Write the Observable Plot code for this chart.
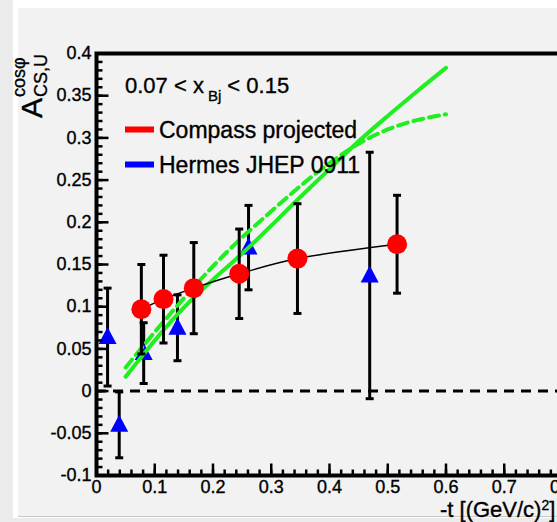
<!DOCTYPE html>
<html><head><meta charset="utf-8">
<script src="https://cdn.jsdelivr.net/npm/d3@7"></script>
<script src="https://cdn.jsdelivr.net/npm/@observablehq/plot@0.6"></script>
<style>
html,body{margin:0;padding:0;width:557px;height:522px;overflow:hidden;background:#ebebeb;position:relative;}
#white{position:absolute;left:13px;top:0;width:600px;height:518px;background:#fff;}
#panel{position:absolute;left:18px;top:8px;width:600px;height:508px;background:#f2f2f2;border-bottom:1px solid #c8c8c8;}
#chart{position:absolute;left:0;top:0;width:600px;height:522px;}
#chart svg{max-width:none !important;width:600px !important;height:522px !important;}
#chart svg text{stroke:#000;stroke-width:0.35px;}
</style></head><body>
<div id="white"></div><div id="panel"></div><div id="chart"></div>
<script>
// ---- data ----
const compassX   = [0.077, 0.115, 0.167, 0.245, 0.345, 0.516];
const compassY   = [0.097, 0.109, 0.122, 0.139, 0.157, 0.174];
const compassErr = [0.053, 0.052, 0.054, 0.053, 0.065, 0.058];

const hermesX   = [0.019, 0.039, 0.081, 0.139, 0.261, 0.469];
const hermesY   = [0.064, -0.040, 0.045, 0.075, 0.170, 0.137];
const hermesErr = [0.058, 0.039, 0.036, 0.039, 0.050, 0.146];

const solidX = [0.05, 0.1, 0.15, 0.2, 0.25, 0.3, 0.35, 0.4, 0.45, 0.5, 0.55, 0.6];
const solidY = [0.017, 0.060, 0.099, 0.132, 0.163, 0.196, 0.230, 0.263, 0.296, 0.326, 0.355, 0.383];

const dashX = [0.05, 0.1, 0.15, 0.2, 0.25, 0.3, 0.35, 0.4, 0.45, 0.5, 0.55, 0.6];
const dashY = [0.028, 0.070, 0.110, 0.148, 0.182, 0.213, 0.243, 0.270, 0.293, 0.310, 0.321, 0.328];

const xTickLabels = [0, 0.1, 0.2, 0.3, 0.4, 0.5, 0.6, 0.7, 0.8];
const yTickLabels = [-0.1, -0.05, 0, 0.05, 0.1, 0.15, 0.2, 0.25, 0.3, 0.35, 0.4];

const legendLabels = ["Compass projected", "Hermes JHEP 0911"];
const legendColors = ["#ff0000", "#0000ff"];

// ---- tables ----
const compass = compassX.map((x, i) => ({x, y: compassY[i], e: compassErr[i]}));
const hermes  = hermesX.map((x, i) => ({x, y: hermesY[i], e: hermesErr[i]}));
const solid   = solidX.map((x, i) => ({x, y: solidY[i]}));
const dashed  = dashX.map((x, i) => ({x, y: dashY[i]}));

const yMinor = d3.range(-10, 41).map(i => i / 100);
const xMinor = d3.range(0, 41).map(i => i / 50);

const FONT = "'Liberation Sans', Arial, Helvetica, sans-serif";

// custom symbols
const hcap = {draw(ctx) { ctx.moveTo(-4, 0); ctx.lineTo(4, 0); }};
const tri  = {draw(ctx) { ctx.moveTo(0, -10); ctx.lineTo(9, 7); ctx.lineTo(-9, 7); ctx.closePath(); }};
const tickRight = len => ({draw(ctx) { ctx.moveTo(0, 0); ctx.lineTo(len, 0); }});
const tickUp    = len => ({draw(ctx) { ctx.moveTo(0, 0); ctx.lineTo(0, -len); }});

const bar = {stroke: "black", strokeWidth: 3};
const cap = {symbol: hcap, stroke: "black", strokeWidth: 3, fill: "none"};

const plot = Plot.plot({
  width: 600, height: 522,
  marginLeft: 96, marginRight: 38, marginTop: 53, marginBottom: 47,
  style: {fontFamily: FONT, fontSize: "18px", background: "transparent", color: "black", overflow: "visible", maxWidth: "none"},
  x: {domain: [0, 0.8]},
  y: {domain: [-0.1, 0.4]},
  marks: [
    Plot.ruleY([0], {stroke: "black", strokeWidth: 3, strokeDasharray: "10,7"}),
    // Hermes
    Plot.ruleX(hermes, {x: "x", y1: d => d.y - d.e, y2: d => d.y + d.e, ...bar}),
    Plot.dot(hermes, {x: "x", y: d => d.y + d.e, ...cap}),
    Plot.dot(hermes, {x: "x", y: d => d.y - d.e, ...cap}),
    Plot.dot(hermes, {x: "x", y: "y", symbol: tri, fill: "#0000ff", stroke: "none"}),
    // green curves
    Plot.line(solid, {x: "x", y: "y", curve: "natural", stroke: "#1fee1f", strokeWidth: 4}),
    Plot.line(dashed, {x: "x", y: "y", curve: "natural", stroke: "#1fee1f", strokeWidth: 4, strokeDasharray: "10,6"}),
    // Compass
    Plot.ruleX(compass, {x: "x", y1: d => d.y - d.e, y2: d => d.y + d.e, ...bar}),
    Plot.dot(compass, {x: "x", y: d => d.y + d.e, ...cap}),
    Plot.dot(compass, {x: "x", y: d => d.y - d.e, ...cap}),
    Plot.line(compass, {x: "x", y: "y", curve: "catmull-rom", stroke: "black", strokeWidth: 1.5}),
    Plot.dot(compass, {x: "x", y: "y", r: 10, fill: "#ff0000", stroke: "none"}),
    // inward ticks
    Plot.dot(yMinor, {x: 0, y: d => d, symbol: tickRight(6), stroke: "black", strokeWidth: 2.5, fill: "none"}),
    Plot.dot(yTickLabels, {x: 0, y: d => d, symbol: tickRight(12), stroke: "black", strokeWidth: 2.5, fill: "none"}),
    Plot.dot(xMinor, {x: d => d, y: -0.1, symbol: tickUp(6), stroke: "black", strokeWidth: 2.5, fill: "none"}),
    Plot.dot(xTickLabels, {x: d => d, y: -0.1, symbol: tickUp(12), stroke: "black", strokeWidth: 2.5, fill: "none"}),
    Plot.frame({stroke: "black", strokeWidth: 4}),
    Plot.axisX({ticks: xTickLabels, tickSize: 0, tickPadding: 5, tickFormat: d => String(d), label: null, fontSize: 18}),
    Plot.axisY({ticks: yTickLabels, tickSize: 0, tickPadding: 5, tickFormat: d => String(d), label: null, fontSize: 18})
  ]
});

document.getElementById("chart").appendChild(plot);
const svg = d3.select(plot);
const addText = (sel) => sel.attr("font-family", FONT).attr("fill", "black").attr("text-anchor", "start");

// x-axis title
const xt = addText(svg.append("text")).attr("x", 440).attr("y", 517).attr("font-size", 22);
xt.append("tspan").text("-t [(GeV/c)");
xt.append("tspan").attr("font-size", 14).attr("dy", -7).text("2");
xt.append("tspan").attr("dy", 7).text("]");

// y-axis title
const yt = addText(svg.append("text")).attr("transform", "translate(42,118) rotate(-90)");
yt.append("tspan").attr("x", 0).attr("y", 0).attr("font-size", 30).text("A");
yt.append("tspan").attr("x", 21).attr("y", -17).attr("font-size", 18).text("cosφ");
yt.append("tspan").attr("x", 21).attr("y", 5).attr("font-size", 18).text("CS,U");

// kinematic range label
const kt = addText(svg.append("text")).attr("x", 125).attr("y", 93).attr("font-size", 22);
kt.append("tspan").text("0.07 < x");
kt.append("tspan").attr("dx", 4).attr("dy", 8).attr("font-size", 15).text("Bj");
kt.append("tspan").attr("dy", -8).text(" < 0.15");

// legend
legendLabels.forEach((lab, i) => {
  const yc = 129.5 + i * 35;
  svg.append("line").attr("x1", 125).attr("x2", 154).attr("y1", yc).attr("y2", yc)
    .attr("stroke", legendColors[i]).attr("stroke-width", 6);
  addText(svg.append("text")).attr("x", 159).attr("y", yc + 8.5).attr("font-size", 23).text(lab);
});
</script></body></html>
